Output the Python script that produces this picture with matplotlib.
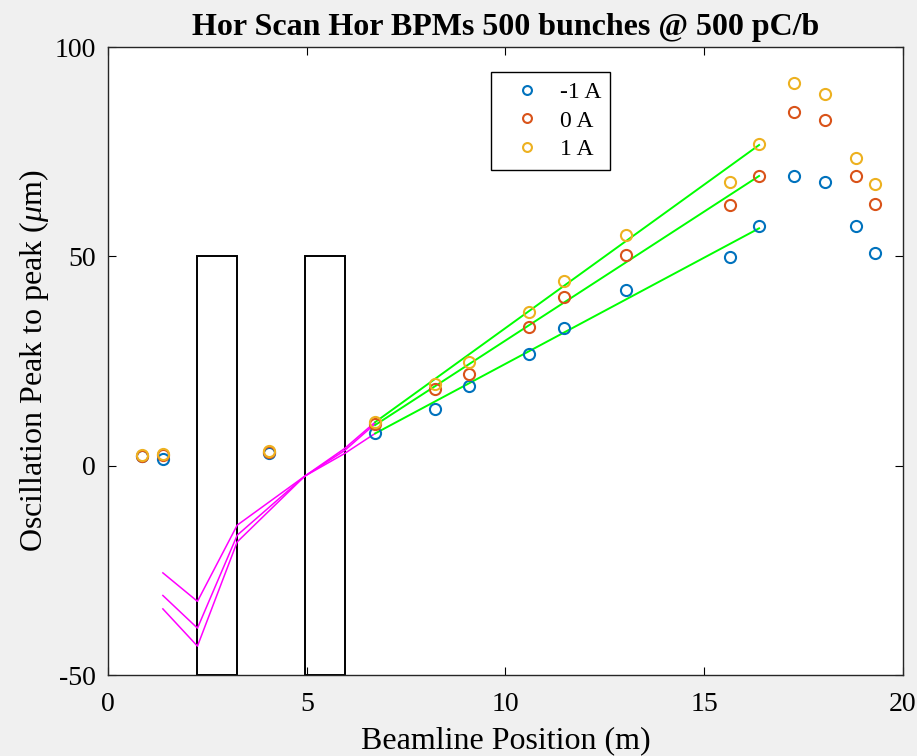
import numpy as np
import matplotlib
matplotlib.use("Agg")
import matplotlib.pyplot as plt
from matplotlib.patches import Rectangle

# ==========================================
# DATA
# ==========================================

bpm_pos = [0.86, 1.38, 4.05, 6.72, 8.23, 9.08, 10.60, 11.47, 13.03,
           15.65, 16.38, 17.26, 18.04, 18.82, 19.30]

osc_m1 = [2.3, 1.6, 3.1, 7.7, 13.5, 19.0, 26.7, 32.9, 42.0,
          49.9, 57.3, 69.2, 67.7, 57.3, 50.8]
osc_0 = [2.4, 2.5, 3.2, 10.0, 18.3, 21.9, 33.1, 40.3, 50.3,
         62.3, 69.2, 84.5, 82.6, 69.2, 62.5]
osc_p1 = [2.6, 2.9, 3.4, 10.4, 19.5, 24.8, 36.6, 44.1, 55.0,
          67.7, 76.8, 91.4, 88.8, 73.5, 67.2]

labels = ["-1 A", "0 A", "1 A"]
colors = ["#0072BD", "#D95319", "#EDB120"]

# linear fits (endpoints)
fit_x = [6.72, 16.38]
fit_m1 = [7.7, 56.7]
fit_0 = [9.7, 69.2]
fit_p1 = [10.4, 76.6]

# back-tracked trajectories through the quads
traj_x = [1.38, 2.25, 3.25, 4.95, 5.95, 6.72]
traj_m1 = [-25.6, -32.4, -14.2, -2.5, 2.9, 7.7]
traj_0 = [-31.0, -38.8, -16.6, -2.5, 3.6, 10.0]
traj_p1 = [-34.2, -43.1, -18.2, -2.5, 4.1, 10.4]

# quadrupole outlines (start, end)
quads = [(2.25, 3.25), (4.95, 5.95)]

# ==========================================
# STYLE
# ==========================================

plt.rcParams["font.family"] = ["Liberation Serif", "DejaVu Serif"]
plt.rcParams["mathtext.fontset"] = "custom"
plt.rcParams["mathtext.rm"] = "Liberation Serif"
plt.rcParams["mathtext.it"] = "Liberation Serif:italic"
plt.rcParams["axes.unicode_minus"] = False

fig = plt.figure(figsize=(9.17, 7.56), dpi=100, facecolor="#f0f0f0")
ax = fig.add_axes([0.1178, 0.1071, 0.8669, 0.8307])
ax.set_facecolor("white")

# ==========================================
# PLOT
# ==========================================

for q0, q1 in quads:
    ax.add_patch(Rectangle((q0, -50), q1 - q0, 100, fill=False,
                           edgecolor="black", linewidth=1.4, zorder=2))

for ty in [traj_m1, traj_0, traj_p1]:
    ax.plot(traj_x, ty, color="#FF00FF", linewidth=1.1, zorder=3)

for fy in [fit_m1, fit_0, fit_p1]:
    ax.plot(fit_x, fy, color="#00FF00", linewidth=1.4, zorder=3)

for ys, c, lab in zip([osc_m1, osc_0, osc_p1], colors, labels):
    ax.plot(bpm_pos, ys, linestyle="none", marker="o", markersize=8,
            markerfacecolor="none", markeredgecolor=c, markeredgewidth=1.5,
            label=lab, zorder=4)

ax.set_xlim(0, 20)
ax.set_ylim(-50, 100)
ax.set_xticks([0, 5, 10, 15, 20])
ax.set_yticks([-50, 0, 50, 100])
ax.tick_params(direction="in", length=6, width=0.8, top=True, right=True,
               labelsize=20)
ax.tick_params(axis="x", pad=12)
ax.tick_params(axis="y", pad=9)
for s in ax.spines.values():
    s.set_linewidth(1.0)
    s.set_color("#262626")

ax.set_title("Hor Scan Hor BPMs 500 bunches @ 500 pC/b",
             fontsize=23, fontweight="bold", pad=9)
ax.set_xlabel("Beamline Position (m)", fontsize=23, labelpad=7)
ax.set_ylabel(r"Oscillation Peak to peak ($\mu$m)", fontsize=23, labelpad=2)

leg = ax.legend(loc="upper left", bbox_to_anchor=(0.482, 0.960),
                borderaxespad=0, fancybox=False, framealpha=1,
                edgecolor="black", fontsize=17, handletextpad=0.3,
                borderpad=0.4, labelspacing=0.3, handlelength=2.2,
                markerscale=0.8)
leg.get_frame().set_linewidth(1.0)

plt.savefig("out.png", dpi=100, facecolor=fig.get_facecolor())
plt.close()
